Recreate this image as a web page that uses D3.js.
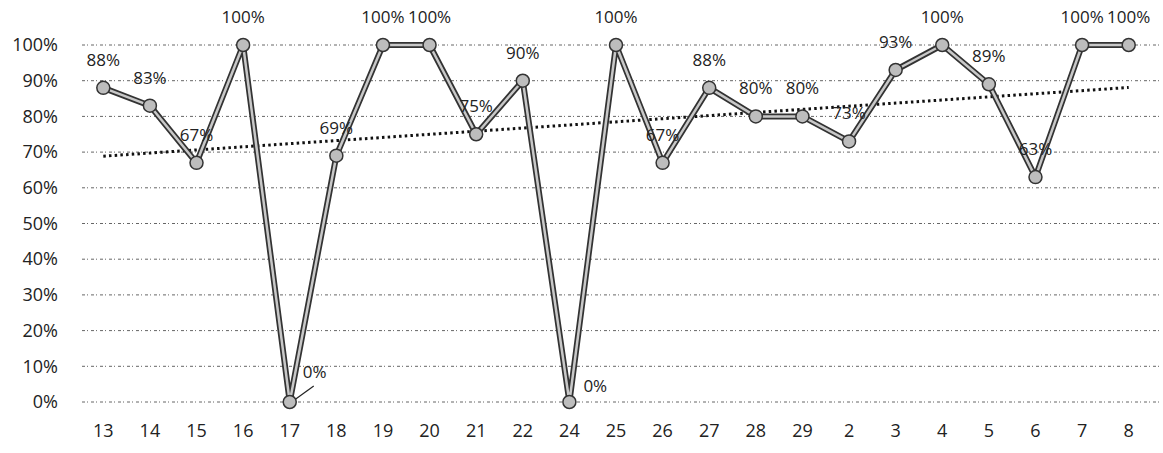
<!DOCTYPE html>
<html>
<head>
<meta charset="utf-8">
<script src="https://cdn.jsdelivr.net/npm/d3@7"></script>
<style>
  html, body { margin: 0; padding: 0; background: #fff; }
  #chart { width: 1163px; height: 453px; }
</style>
</head>
<body>
<div id="chart"></div>
<script>
// categories (days) and completion rates
const days = ["13", "14", "15", "16", "17", "18", "19", "20", "21", "22", "24", "25", "26", "27", "28", "29", "2", "3", "4", "5", "6", "7", "8"];
const rates = [88, 83, 67, 100, 0, 69, 100, 100, 75, 90, 0, 100, 67, 88, 80, 80, 73, 93, 100, 89, 63, 100, 100];
const yTicks = [0, 10, 20, 30, 40, 50, 60, 70, 80, 90, 100];

const createChart = () => {
    const width = 1163, height = 453;
    const margin = { top: 45, right: 7, bottom: 51, left: 80 };
    const innerW = width - margin.left - margin.right;
    const innerH = height - margin.top - margin.bottom;
    const font = "'Open Sans', sans-serif";

    const svg = d3.select("#chart").append("svg")
        .attr("width", width)
        .attr("height", height);

    const g = svg.append("g")
        .attr("transform", `translate(${margin.left},${margin.top})`);

    const x = d3.scaleBand().domain(d3.range(days.length)).range([0, innerW - 4]);
    const y = d3.scaleLinear().domain([0, 100]).range([innerH, 0]);
    const cx = i => x(i) + x.bandwidth() / 2;

    // 网格线
    g.selectAll(".grid")
        .data(yTicks)
        .enter()
        .append("line")
        .attr("x1", 2)
        .attr("x2", innerW + 3)
        .attr("y1", d => y(d))
        .attr("y2", d => y(d))
        .attr("stroke", "#666")
        .attr("stroke-width", 1)
        .attr("stroke-dasharray", "3,2,1,3");

    // Y axis labels
    const yAxis = g.append("g")
        .call(d3.axisLeft(y).tickValues(yTicks).tickFormat(d => d + "%").tickSize(0).tickPadding(22));
    yAxis.select(".domain").remove();
    yAxis.selectAll("text")
        .style("font-family", font)
        .style("font-size", "18px")
        .style("fill", "#222");

    // X axis labels
    const xAxis = g.append("g")
        .attr("transform", `translate(0,${innerH})`)
        .call(d3.axisBottom(x).tickFormat(i => days[i]).tickSize(0).tickPadding(22));
    xAxis.select(".domain").remove();
    xAxis.selectAll("text")
        .style("font-family", font)
        .style("font-size", "18px")
        .style("fill", "#222");

    // linear trend line (least squares)
    const n = rates.length;
    const mx = d3.mean(d3.range(n));
    const my = d3.mean(rates);
    const slope = d3.sum(rates, (v, i) => (i - mx) * (v - my)) / d3.sum(d3.range(n), i => (i - mx) ** 2);
    const icpt = my - slope * mx;
    g.append("line")
        .attr("x1", cx(0))
        .attr("x2", cx(n - 1))
        .attr("y1", y(icpt))
        .attr("y2", y(icpt + slope * (n - 1)))
        .attr("stroke", "#111")
        .attr("stroke-width", 3)
        .attr("stroke-dasharray", "2.5,3.2");

    // 折线 (double outline look)
    const line = d3.line().x((d, i) => cx(i)).y(d => y(d));
    g.append("path")
        .datum(rates)
        .attr("fill", "none")
        .attr("stroke", "#333")
        .attr("stroke-width", 6)
        .attr("stroke-linejoin", "round")
        .attr("d", line);
    g.append("path")
        .datum(rates)
        .attr("fill", "none")
        .attr("stroke", "#c8c8c8")
        .attr("stroke-width", 2.5)
        .attr("stroke-linejoin", "round")
        .attr("d", line);

    // markers
    g.selectAll(".dot")
        .data(rates)
        .enter()
        .append("circle")
        .attr("cx", (d, i) => cx(i))
        .attr("cy", d => y(d))
        .attr("r", 6.5)
        .attr("fill", "#bdbdbd")
        .attr("stroke", "#333")
        .attr("stroke-width", 1.5);

    // leader line for the first 0% label
    const i17 = days.indexOf("17");
    g.append("line")
        .attr("x1", cx(i17) + 6)
        .attr("y1", y(0) - 3)
        .attr("x2", cx(i17) + 24)
        .attr("y2", y(0) - 16)
        .attr("stroke", "#222")
        .attr("stroke-width", 1.2);

    // 数据标签
    g.selectAll(".lbl")
        .data(rates)
        .enter()
        .append("text")
        .attr("x", (d, i) => d === 0 ? cx(i) + (days[i] === "17" ? 13 : 14) : cx(i))
        .attr("y", (d, i) => d === 0 ? y(0) - (days[i] === "17" ? 24 : 10) : y(d) - 22)
        .attr("text-anchor", d => d === 0 ? "start" : "middle")
        .style("font-family", font)
        .style("font-size", "17px")
        .style("fill", "#222")
        .text(d => d + "%");
};

if (document.readyState === "loading") {
    document.addEventListener("DOMContentLoaded", createChart);
} else {
    createChart();
}
</script>
</body>
</html>
